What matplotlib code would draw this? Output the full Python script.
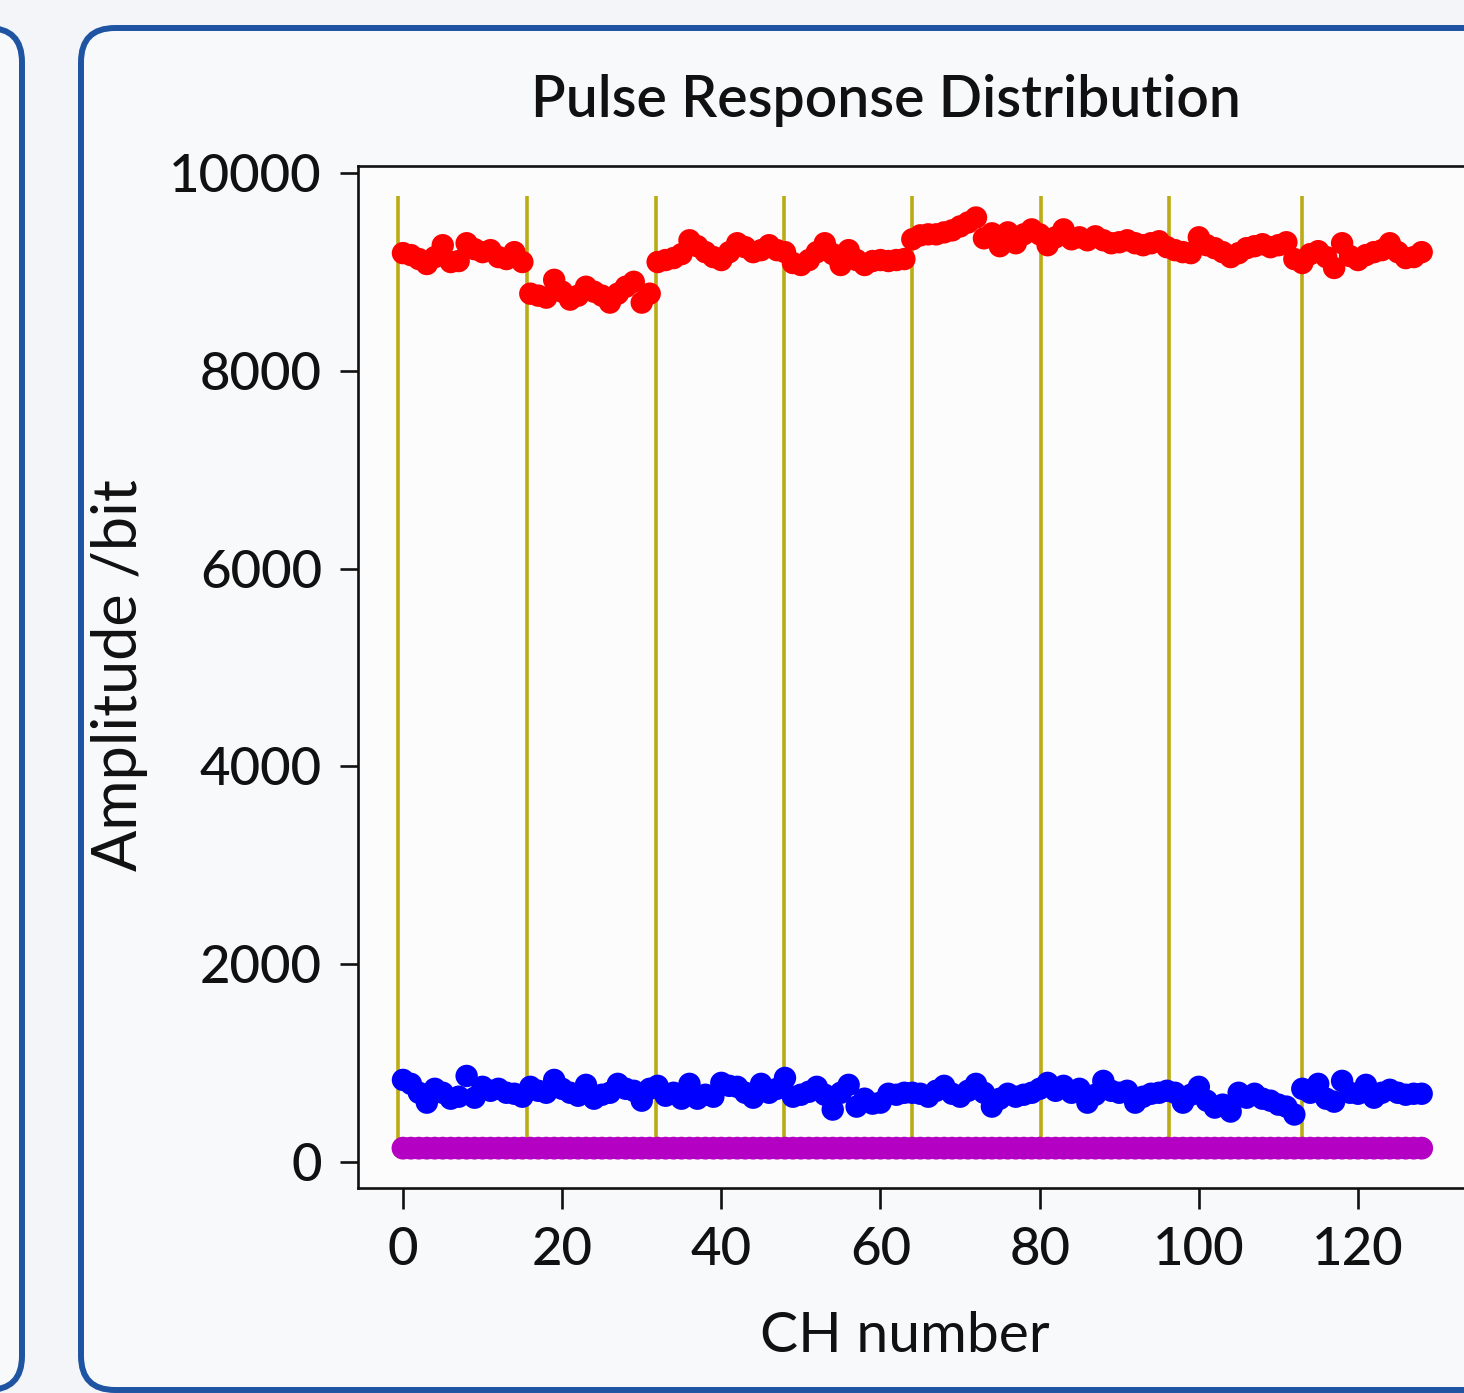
import numpy as np
import matplotlib
matplotlib.use("Agg")
import matplotlib.pyplot as plt
from matplotlib.patches import FancyBboxPatch
from matplotlib.transforms import IdentityTransform

# ---------------------------------------------------------------------------
# data
# ---------------------------------------------------------------------------
channels = list(range(129))

high_amp = [
    9190, 9170, 9130, 9080, 9150, 9270, 9100, 9110, 9290, 9230, 9200, 9220, 9150, 9130, 9200, 9100,
    8780, 8760, 8740, 8920, 8800, 8720, 8760, 8850, 8800, 8760, 8690, 8780, 8850, 8900, 8690, 8780,
    9100, 9120, 9140, 9180, 9320, 9260, 9200, 9150, 9120, 9200, 9290, 9250, 9200, 9220, 9270, 9220,
    9200, 9090, 9070, 9120, 9200, 9290, 9180, 9070, 9220, 9120, 9070, 9110, 9120, 9110, 9120, 9130,
    9330, 9370, 9380, 9380, 9400, 9420, 9460, 9500, 9550, 9340, 9390, 9260, 9400, 9290, 9380, 9430,
    9380, 9270, 9350, 9430, 9330, 9350, 9320, 9360, 9320, 9290, 9300, 9320, 9290, 9270, 9290, 9310,
    9250, 9220, 9200, 9190, 9350, 9270, 9240, 9200, 9150, 9190, 9240, 9260, 9280, 9250, 9270, 9300,
    9130, 9090, 9180, 9210, 9150, 9040, 9290, 9160, 9120, 9170, 9200, 9220, 9290, 9200, 9140, 9150,
    9200,
]

low_amp = [
    830, 790, 700, 600, 740, 700, 640, 660, 870, 650, 760, 720, 740, 700, 690, 660,
    760, 720, 700, 830, 740, 700, 670, 780, 640, 680, 700, 790, 740, 720, 620, 740,
    770, 670, 700, 640, 790, 640, 680, 660, 800, 770, 760, 700, 650, 790, 700, 740,
    850, 660, 680, 710, 760, 680, 530, 700, 780, 560, 640, 590, 600, 690, 680, 700,
    700, 690, 660, 720, 770, 690, 660, 720, 790, 700, 560, 640, 690, 660, 680, 700,
    740, 800, 720, 770, 700, 740, 600, 680, 820, 720, 700, 720, 600, 660, 690, 700,
    720, 700, 600, 680, 760, 620, 550, 580, 510, 700, 650, 690, 640, 620, 580, 560,
    480, 740, 700, 790, 640, 610, 820, 700, 690, 780, 650, 700, 730, 700, 680, 690,
    690,
]

baseline = [140] * 129

group_edges = [-0.6, 15.6, 31.8, 47.9, 63.9, 80.2, 96.2, 112.9]

y_ticks = [0, 2000, 4000, 6000, 8000, 10000]
x_ticks = [0, 20, 40, 60, 80, 100, 120]

FONT = ["Lato", "DejaVu Sans"]
plt.rcParams["font.family"] = FONT
plt.rcParams["font.weight"] = "medium"
INK = "#111111"

W, H = 1464, 1393
fig = plt.figure(figsize=(W / 100, H / 100), dpi=100, facecolor="#f3f5f8")

# panel frames, in display pixels, kept behind the axes
border = "#1f54a3"
for x0, width in ((-1500, 1522), (81, 1500)):
    fig.add_artist(FancyBboxPatch((x0, 3), width, 1362, boxstyle="round,pad=0,rounding_size=34",
                                  transform=IdentityTransform(), facecolor="#f8f9fb",
                                  edgecolor=border, linewidth=4.3, zorder=-5))

ax_l, ax_r, ax_t, ax_b = 358, 1475, 166, 1188
ax = fig.add_axes([ax_l / W, 1 - ax_b / H, (ax_r - ax_l) / W, (ax_b - ax_t) / H])
ax.set_facecolor("#fcfcfc")

ax.vlines(group_edges, 140, 9770, colors="#bbab14", linewidth=2.6, zorder=1)
ax.scatter(channels, high_amp, s=260, color="#ff0000", edgecolors="none", zorder=3)
ax.scatter(channels, low_amp, s=260, color="#0000ff", edgecolors="none", zorder=3)
ax.scatter(channels, baseline, s=270, color="#b300c2", edgecolors="none", zorder=4)

ax.set_xlim(-5.65, 134.7)
ax.set_ylim(-263, 10071)
ax.set_xticks(x_ticks)
ax.set_yticks(y_ticks)

for side in ("top", "left", "bottom", "right"):
    ax.spines[side].set_linewidth(1.9)
    ax.spines[side].set_color(INK)

ax.tick_params(axis="y", length=13, width=1.9, pad=13, labelsize=38, colors=INK)
ax.tick_params(axis="x", length=15, width=1.9, pad=13, labelsize=38, colors=INK)

span_x = ax_r - ax_l
span_y = ax_b - ax_t
ax.set_xlabel("CH number", fontsize=41, color=INK, va="baseline")
ax.xaxis.set_label_coords((905 - ax_l) / span_x, -(1352 - ax_b) / span_y)
ax.set_ylabel("Amplitude /bit", fontsize=44, color=INK)
ax.yaxis.set_label_coords(-(ax_l - 148) / span_x, (ax_b - 675) / span_y)

fig.text(886 / W, 1 - 117 / H, "Pulse Response Distribution", ha="center", va="baseline",
         fontsize=41, color=INK, fontweight="semibold")

fig.savefig("out.png", dpi=100, facecolor=fig.get_facecolor())
